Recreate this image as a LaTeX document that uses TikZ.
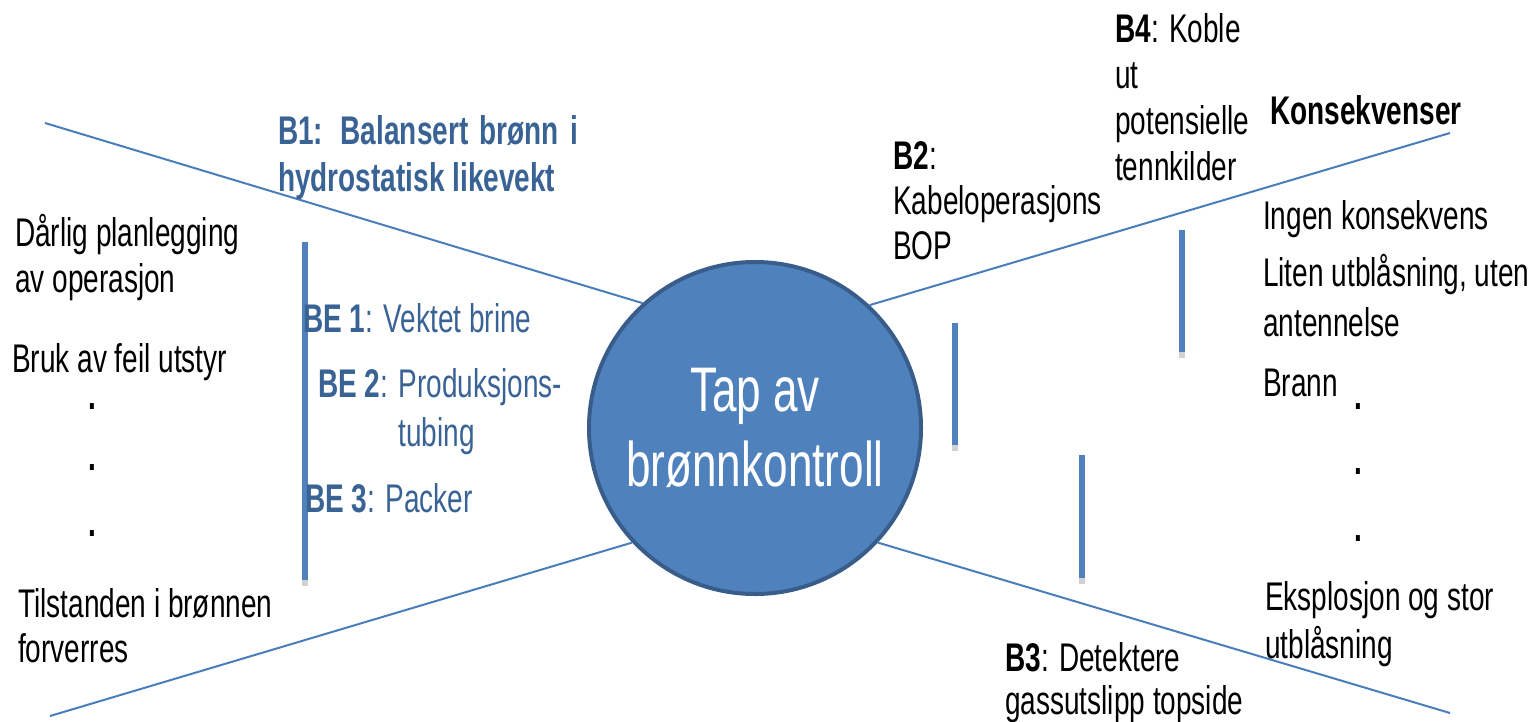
\documentclass[tikz,border=0pt]{standalone}
\usepackage{fontspec}
\setmainfont[FakeStretch=0.7]{Liberation Sans}
\usepackage{tikz}
\definecolor{circfill}{HTML}{4F81BD}
\definecolor{circedge}{HTML}{385D8A}
\definecolor{linecol}{HTML}{4A7EBB}
\definecolor{barblue}{HTML}{3A6395}

\begin{document}
\begin{tikzpicture}[x=1pt,y=-1pt,
  txt/.style={anchor=base west,align=left,inner sep=0pt,
    font=\fontsize{40}{46}\selectfont},
  bluetxt/.style={txt,text=barblue},
  spoke/.style={draw=linecol,line width=2pt},
  bar/.style={draw=circfill,line width=6pt,
    preaction={draw=black,opacity=0.18,line width=6pt,transform canvas={yshift=-6pt}}},
  dot/.style={anchor=base,inner sep=0pt,font=\fontsize{40}{46}\selectfont\bfseries}]
\useasboundingbox (0,0) rectangle (1540,721);
\node[circle,fill=circfill,draw=circedge,line width=4pt,minimum size=332pt,
  inner sep=0pt,align=center,text=white,
  font=\fontsize{63}{75}\selectfont] (TB) at (755,428) {Tap av\\brønnkontroll};
% free ends of the bow-tie
\coordinate (UL) at (45,123);
\coordinate (LL) at (50,716);
\coordinate (UR) at (1450,133);
\coordinate (LR) at (1450,713);
\draw[spoke] (UL) -- (TB.132);
\draw[spoke] (LL) -- (TB.223);
\draw[spoke] (TB.47) -- (UR);
\draw[spoke] (TB.317) -- (LR);
% barriers
\draw[bar] (305,242) -- (305,580);
\draw[bar] (955,323) -- (955,445);
\draw[bar] (1182,230) -- (1182,352);
\draw[bar] (1082,455) -- (1082,578);
% left side (multi-line nodes sit on their last baseline)
\node[bluetxt,font=\fontsize{40}{47}\selectfont\bfseries] (B1) at (278,191)
  {\makebox[300pt][s]{B1: Balansert brønn i}\\hydrostatisk likevekt};
\node[txt] (C1) at (15,292) {Dårlig planlegging\\av operasjon};
\node[txt] (C2) at (12,372) {Bruk av feil utstyr};
\node[dot] (D1) at (92,409) {.};
\node[dot] (D2) at (92,470) {.};
\node[dot] (D3) at (92,536) {.};
\node[txt,font=\fontsize{40}{45}\selectfont] (C3) at (18,662) {Tilstanden i brønnen\\forverres};
\node[bluetxt] (BE1) at (303,332) {\textbf{BE 1}: Vektet brine};
\node[bluetxt,font=\fontsize{40}{49}\selectfont] (BE2) at (318,446)
  {\textbf{BE 2}: Produksjons-\\\phantom{\textbf{BE 2}: }tubing};
\node[bluetxt] (BE3) at (305,512) {\textbf{BE 3}: Packer};
% right side
\node[txt,font=\fontsize{40}{45}\selectfont] (B2) at (893,259) {\textbf{B2}:\\Kabeloperasjons\\BOP};
\node[txt] (B4) at (1115,180) {\textbf{B4}: Koble\\ut\\potensielle\\tennkilder};
\node[txt,font=\fontsize{40}{43}\selectfont] (B3) at (1005,714) {\textbf{B3}: Detektere\\gassutslipp topside};
\node[txt,font=\fontsize{40}{46}\selectfont\bfseries] (K) at (1270,124) {Konsekvenser};
\node[txt] (K1) at (1263,229) {Ingen konsekvens};
\node[txt,font=\fontsize{40}{50}\selectfont] (K2) at (1263,336) {Liten utblåsning,\ uten\\antennelse};
\node[txt] (K3) at (1263,396) {Brann};
\node[dot] (D4) at (1358,409) {.};
\node[dot] (D5) at (1358,474) {.};
\node[dot] (D6) at (1358,541) {.};
\node[txt,font=\fontsize{40}{48}\selectfont] (K4) at (1265,658) {Eksplosjon og stor\\utblåsning};
\end{tikzpicture}
\end{document}
